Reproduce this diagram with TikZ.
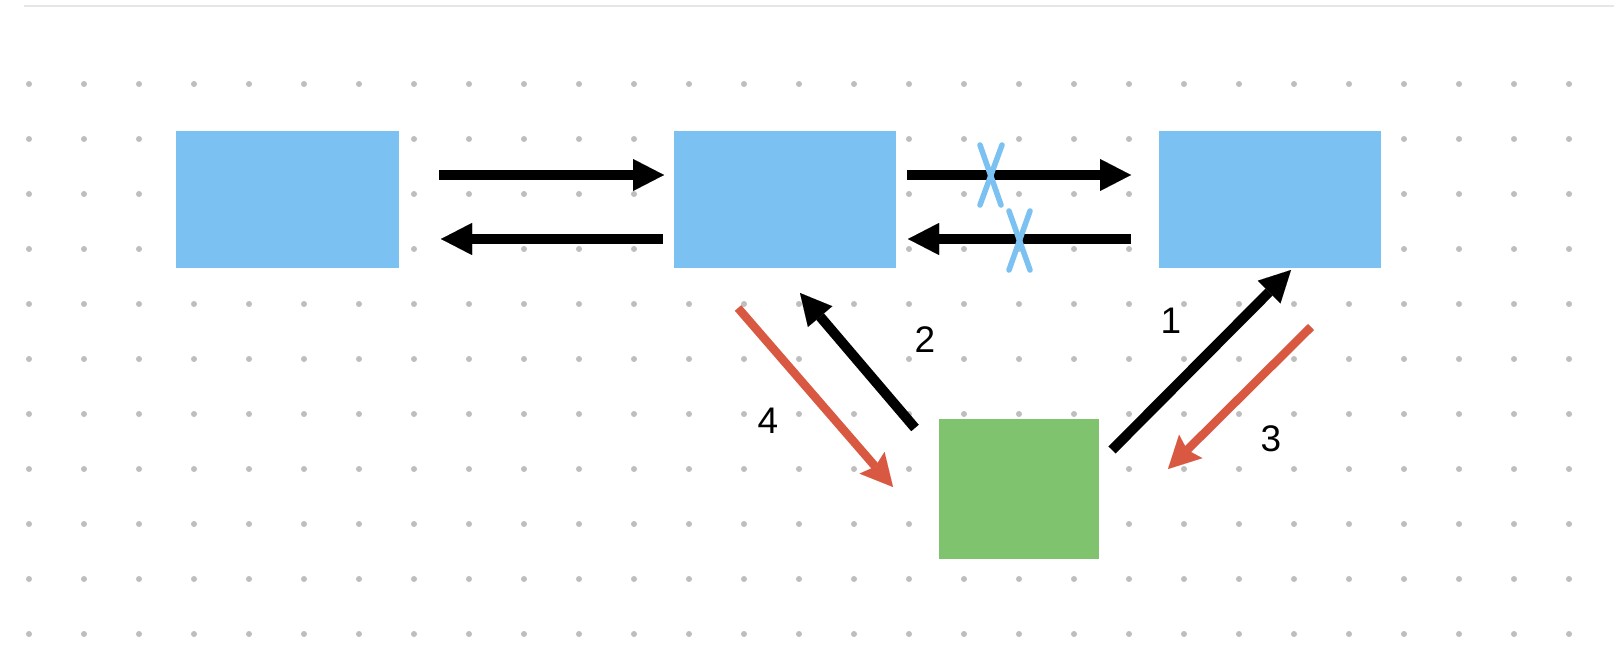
\documentclass[tikz,border=0pt]{standalone}
\usepackage{fontspec}
\setmainfont{Liberation Sans}
\usetikzlibrary{arrows.meta}
\definecolor{boxblue}{HTML}{7BC2F2}
\definecolor{boxgreen}{HTML}{7FC36E}
\definecolor{arrred}{HTML}{D95841}
\definecolor{dotgray}{HTML}{BEBEBE}
\definecolor{rulegray}{HTML}{E6E6E6}
\tikzset{
  bluebox/.style={fill=boxblue, draw=none, inner sep=0pt, anchor=north west},
  greenbox/.style={fill=boxgreen, draw=none, inner sep=0pt, anchor=north west},
  blackarr/.style={draw=black, line width=10pt, -{Triangle[length=31pt,width=32pt,line width=0.01pt]}},
  redarr/.style={draw=arrred, line width=8.5pt, -{Stealth[length=32pt,width=33pt,inset=5pt,line width=0.01pt]}},
  crossline/.style={draw=boxblue, line width=5.5pt, line cap=round},
  numlabel/.style={font=\fontsize{37}{40}\selectfont, inner sep=0pt}
}
\begin{document}
\begin{tikzpicture}[x=1pt,y=-1pt]
\useasboundingbox (0,0) rectangle (1614,668);
\fill[white] (0,0) rectangle (1614,668);
% top rule
\draw[rulegray, line width=2pt] (24,6.5) -- (1614,6.5);
% dot grid
\foreach \i in {0,...,28}{
  \foreach \j in {0,...,10}{
    \fill[dotgray] ({29+55*\i},{84+55*\j}) circle (3pt);
  }
}
% boxes
\node[bluebox, minimum width=223pt, minimum height=137pt] (A) at (176,131) {};
\node[bluebox, minimum width=222pt, minimum height=137pt] (B) at (674,131) {};
\node[bluebox, minimum width=222pt, minimum height=137pt] (C) at (1159,131) {};
\node[greenbox, minimum width=160pt, minimum height=140pt] (G) at (939,419) {};
% arrow endpoints
\coordinate (ab1) at (439,175);
\coordinate (ab2) at (664,175);
\coordinate (ba1) at (663,239);
\coordinate (ba2) at (441,239);
\coordinate (bc1) at (907,175);
\coordinate (bc2) at (1131,175);
\coordinate (cb1) at (1131,239);
\coordinate (cb2) at (908,239);
\coordinate (g1s) at (1112,450);
\coordinate (g1e) at (1291,270);
\coordinate (g2s) at (915,428);
\coordinate (g2e) at (800,293);
\coordinate (g3s) at (1311,327);
\coordinate (g3e) at (1168,469);
\coordinate (g4s) at (738,308);
\coordinate (g4e) at (893,487);
% horizontal arrows
\draw[blackarr] (ab1) -- (ab2);
\draw[blackarr] (ba1) -- (ba2);
\draw[blackarr] (bc1) -- (bc2);
\draw[blackarr] (cb1) -- (cb2);
% crosses
\coordinate (x1a) at (980,145);
\coordinate (x1b) at (1001,205);
\coordinate (x1c) at (1002,145);
\coordinate (x1d) at (980,205);
\draw[crossline] (x1a) -- (x1b);
\draw[crossline] (x1c) -- (x1d);
\coordinate (x2a) at (1009,211);
\coordinate (x2b) at (1030,270);
\coordinate (x2c) at (1030,211);
\coordinate (x2d) at (1009,270);
\draw[crossline] (x2a) -- (x2b);
\draw[crossline] (x2c) -- (x2d);
% diagonal arrows
\draw[blackarr] (g1s) -- (g1e);
\draw[blackarr] (g2s) -- (g2e);
\draw[redarr] (g3s) -- (g3e);
\draw[redarr] (g4s) -- (g4e);
% labels
\node[numlabel] (l1) at (1171,321) {1};
\node[numlabel] (l2) at (925,340) {2};
\node[numlabel] (l3) at (1271,439) {3};
\node[numlabel] (l4) at (768,421) {4};
\end{tikzpicture}
\end{document}
